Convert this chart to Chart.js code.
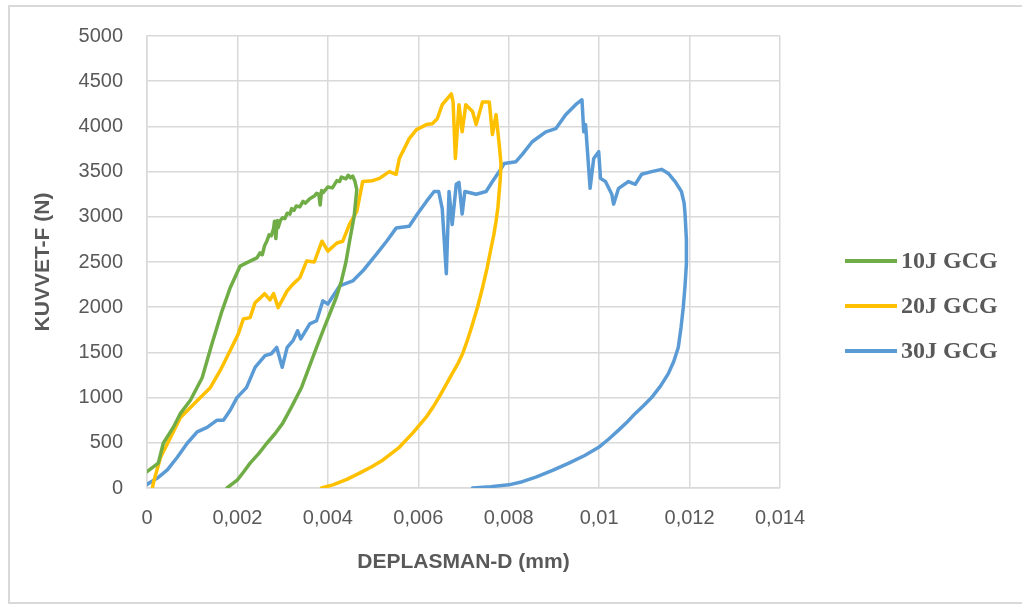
<!DOCTYPE html>
<html>
<head>
<meta charset="utf-8">
<script src="https://cdn.jsdelivr.net/npm/chart.js@4"></script>
<style>
  body { margin: 0; background: #fff; }
  #wrap { position: relative; width: 1022px; height: 608px; overflow: hidden; }
  #frame { position: absolute; left: 8px; top: 5px; width: 1030px; height: 599px; border: 2px solid #d9d9d9; box-sizing: border-box; }
  canvas { position: absolute; left: 0; top: 0; }
</style>
</head>
<body>
<div id="wrap">
  <div id="frame"></div>
  <canvas id="chart" width="1022" height="608"></canvas>
</div>
<script>
const SERIES_NAMES = ['10J GCG', '20J GCG', '30J GCG'];
const SERIES_COLORS = ['#70ad47', '#ffc000', '#5b9bd5'];

const X_TICKS = ['0', '0,002', '0,004', '0,006', '0,008', '0,01', '0,012', '0,014'];

// 10J: loading then unloading branch
const D10 = [0, 0.00025, 0.00036, 0.00058, 0.00074, 0.00096, 0.00122, 0.00144, 0.00166, 0.00184, 0.00206, 0.0022, 0.00243,
    0.0025, 0.00255, 0.0026, 0.00265, 0.0027, 0.00275, 0.0028, 0.00282, 0.00285, 0.00288, 0.0029, 0.00295, 0.003, 0.00305, 0.0031, 0.00316,
    0.0032, 0.00325, 0.0033, 0.00338, 0.00345, 0.0035, 0.0036, 0.0037, 0.00375, 0.0038, 0.00383, 0.00386, 0.0039, 0.004, 0.0041, 0.0042,
    0.00426, 0.0043, 0.0044, 0.00445, 0.0045, 0.00455, 0.0046,
    0.00464, 0.00458, 0.00448, 0.0044, 0.0043, 0.00418, 0.00404, 0.0039, 0.00375, 0.00358, 0.00342, 0.0032, 0.003, 0.00283, 0.00265,
    0.00247, 0.00228, 0.00214, 0.002, 0.00177];
const F10 = [180, 275, 495, 670, 825, 970, 1220, 1600, 1960, 2215, 2455, 2490, 2545,
    2600, 2580, 2680, 2730, 2800, 2790, 2870, 2950, 2760, 2960, 2880, 2960, 2990, 2980, 3040, 3030,
    3090, 3070, 3120, 3110, 3170, 3150, 3200, 3230, 3260, 3250, 3130, 3290, 3270, 3330, 3320, 3400,
    3390, 3440, 3420, 3460, 3430, 3450, 3390,
    3300, 3000, 2730, 2500, 2290, 2100, 1925, 1750, 1555, 1330, 1115, 900, 715, 600, 495,
    380, 275, 180, 90, 0];

// 20J
const D20 = [0.00012, 0.00014, 0.0003, 0.00052, 0.00074, 0.00096, 0.00118, 0.0014, 0.00162, 0.00184, 0.00202, 0.00213, 0.00228, 0.00239,
    0.0025, 0.0026, 0.00272, 0.0028, 0.0029, 0.0031, 0.00323, 0.00338, 0.00353, 0.0037, 0.00387, 0.004, 0.0042, 0.00433, 0.00448, 0.00464,
    0.00477, 0.00499, 0.00514, 0.00536, 0.00551, 0.00558, 0.0058, 0.00596, 0.00618, 0.00631, 0.00642, 0.00653, 0.00673, 0.00677, 0.00682,
    0.0069, 0.00697, 0.00705, 0.0072, 0.00728, 0.00742, 0.00757, 0.00764, 0.00772, 0.00779, 0.00783,
    0.00781, 0.00779, 0.00776, 0.00772, 0.00767, 0.00761, 0.00752, 0.00742, 0.00731, 0.0072, 0.00709, 0.00698, 0.00687, 0.00675, 0.0066,
    0.00646, 0.00632, 0.00617, 0.00588, 0.00558, 0.0054, 0.00522, 0.00497, 0.0047, 0.00442, 0.00411, 0.00386];
const F20 = [0, 55, 340, 560, 780, 890, 1000, 1110, 1300, 1520, 1705, 1870, 1885, 2050,
    2100, 2150, 2080, 2150, 1995, 2180, 2255, 2325, 2510, 2500, 2730, 2620, 2710, 2730, 2920, 3060,
    3390, 3400, 3425, 3500, 3470, 3645, 3865, 3965, 4020, 4030, 4085, 4240, 4360, 4270, 3645,
    4240, 3940, 4240, 4165, 4020, 4270, 4270, 3910, 4130, 3800, 3580,
    3400, 3280, 3100, 2950, 2800, 2655, 2430, 2215, 2000, 1815, 1640, 1485, 1370, 1265, 1130,
    1005, 890, 780, 610, 450, 380, 310, 235, 165, 95, 35, 0];

// 30J
const D30 = [0, 0.00023, 0.00045, 0.00067, 0.00089, 0.00111, 0.00133, 0.00155, 0.00169, 0.00184, 0.00199, 0.0022, 0.00239, 0.00261,
    0.00275, 0.00287, 0.00299, 0.0031, 0.00323, 0.00333, 0.0034, 0.0036, 0.00375, 0.00389, 0.004, 0.00426, 0.00455, 0.00477, 0.00508,
    0.0053, 0.00551, 0.0058, 0.00598, 0.00618, 0.00635, 0.00645, 0.00653, 0.00662, 0.00668, 0.00675, 0.00684, 0.0069, 0.00697, 0.00703,
    0.00728, 0.0075, 0.00764, 0.00779, 0.0079, 0.00816, 0.0083, 0.00852, 0.00882, 0.00904, 0.00926, 0.00948, 0.00962, 0.00966, 0.0097,
    0.0098, 0.00988, 0.00999, 0.01003, 0.01014, 0.01028, 0.01032, 0.01043, 0.01065, 0.0108, 0.01094, 0.01116, 0.01138, 0.01153, 0.01168,
    0.01182, 0.01188, 0.0119, 0.01193, 0.01193, 0.0119, 0.01186, 0.01181, 0.01175, 0.01165, 0.01153, 0.01136, 0.01116, 0.01098, 0.0108,
    0.01062, 0.01043, 0.01022, 0.00999, 0.00968, 0.00933, 0.00897, 0.0086, 0.0083, 0.008, 0.0076, 0.0072];
const F30 = [40, 110, 200, 340, 495, 620, 670, 750, 750, 860, 1000, 1110, 1335, 1465,
    1485, 1555, 1335, 1555, 1630, 1740, 1650, 1815, 1850, 2070, 2035, 2235, 2290, 2400, 2590,
    2730, 2875, 2895, 3030, 3170, 3280, 3280, 3090, 2370, 3280, 2915, 3360, 3380, 3030, 3280,
    3250, 3280, 3390, 3500, 3590, 3610, 3690, 3830, 3940, 3975, 4130, 4240, 4295, 3940, 4020,
    3315, 3645, 3720, 3425, 3390, 3250, 3140, 3315, 3390, 3360, 3470, 3500, 3525, 3480, 3390,
    3280, 3150, 3030, 2750, 2480, 2240, 1995, 1770, 1555, 1400, 1265, 1130, 1000, 910, 825,
    730, 640, 545, 450, 360, 275, 195, 120, 70, 35, 15, 0];

const toPoints = (xs, ys) => xs.map((x, i) => ({x: x, y: ys[i]}));

const TEXT = '#595959';
const GRID = '#d9d9d9';

// legend drawn on the right, Excel style
const sideLegend = {
    id: 'sideLegend',
    afterDraw(chart) {
        const ctx = chart.ctx;
        ctx.save();
        chart.data.datasets.forEach((ds, i) => {
            const y = 261 + i * 45;
            ctx.strokeStyle = ds.borderColor;
            ctx.lineWidth = 4;
            ctx.beginPath();
            ctx.moveTo(845, y);
            ctx.lineTo(897, y);
            ctx.stroke();
            ctx.fillStyle = TEXT;
            ctx.font = 'bold 24px "Liberation Serif"';
            ctx.textBaseline = 'middle';
            ctx.fillText(ds.label, 901, y + 1);
        });
        ctx.restore();
    }
};

new Chart(document.getElementById('chart'), {
    type: 'scatter',
    data: {
        datasets: [
            {label: SERIES_NAMES[0], data: toPoints(D10, F10), borderColor: SERIES_COLORS[0], backgroundColor: SERIES_COLORS[0]},
            {label: SERIES_NAMES[1], data: toPoints(D20, F20), borderColor: SERIES_COLORS[1], backgroundColor: SERIES_COLORS[1]},
            {label: SERIES_NAMES[2], data: toPoints(D30, F30), borderColor: SERIES_COLORS[2], backgroundColor: SERIES_COLORS[2]},
        ].map(ds => Object.assign(ds, {showLine: true, pointRadius: 0, borderWidth: 3.5, borderJoinStyle: 'round', borderCapStyle: 'round'}))
    },
    options: {
        responsive: false,
        animation: false,
        devicePixelRatio: 1,
        layout: {padding: {left: 20, right: 242, top: 34, bottom: 20}},
        scales: {
            x: {
                type: 'linear',
                min: 0,
                max: 0.014,
                afterFit: s => { s.height = 100; },
                grid: {color: GRID, lineWidth: 1.5, drawTicks: false},
                border: {color: GRID, width: 1.5},
                ticks: {
                    stepSize: 0.002,
                    padding: 18,
                    color: TEXT,
                    font: {family: 'Liberation Sans', size: 20},
                    callback: (v, i) => X_TICKS[i]
                },
                title: {
                    display: true,
                    text: 'DEPLASMAN-D (mm)',
                    color: TEXT,
                    font: {family: 'Liberation Sans', size: 21, weight: 'bold'},
                    padding: {top: 13, bottom: 13}
                }
            },
            y: {
                min: 0,
                max: 5000,
                afterFit: s => { s.width = 127; },
                grid: {color: GRID, lineWidth: 1.5, drawTicks: false},
                border: {color: GRID, width: 1.5},
                ticks: {
                    stepSize: 500,
                    padding: 24,
                    color: TEXT,
                    font: {family: 'Liberation Sans', size: 20},
                    callback: v => String(v)
                },
                title: {
                    display: true,
                    text: 'KUVVET-F (N)',
                    color: TEXT,
                    font: {family: 'Liberation Sans', size: 21, weight: 'bold'},
                    padding: {top: 11, bottom: 11}
                }
            }
        },
        plugins: {
            legend: {display: false},
            tooltip: {enabled: false}
        }
    },
    plugins: [sideLegend]
});
</script>
</body>
</html>
